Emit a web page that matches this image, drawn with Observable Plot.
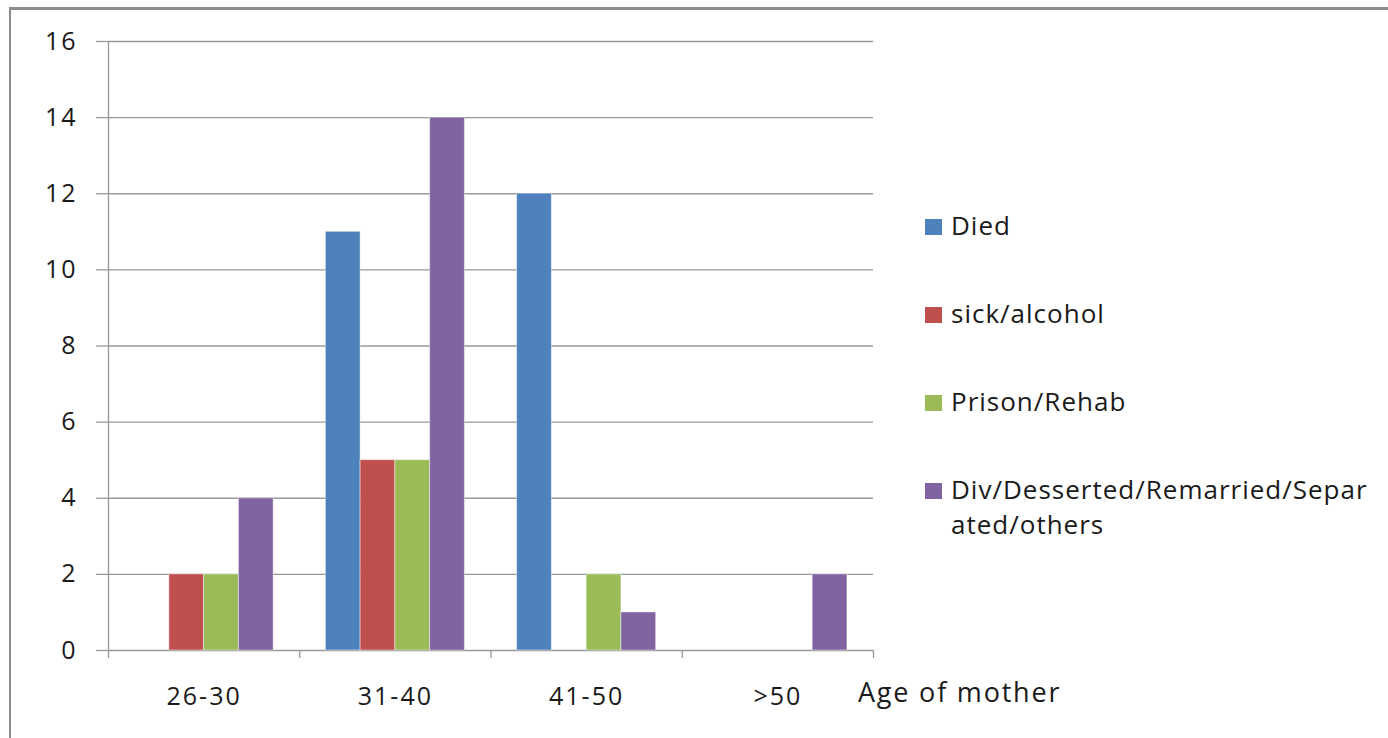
<!DOCTYPE html>
<html>
<head>
<meta charset="utf-8">
<script src="https://cdn.jsdelivr.net/npm/d3@7"></script>
<script src="https://cdn.jsdelivr.net/npm/@observablehq/plot@0.6"></script>
<style>
  html, body { margin: 0; padding: 0; background: #fff; }
  #wrap { position: relative; width: 1388px; height: 738px; overflow: hidden; font-family: "Open Sans", sans-serif; color: #1a1a1a; }
  #chart svg { display: block; }
  .frame-top { position: absolute; left: 9px; top: 7px; width: 1379px; height: 3px; background: #8c8c8c; }
  .frame-left { position: absolute; left: 9px; top: 7px; width: 2px; height: 731px; background: #8c8c8c; }
  #legend { position: absolute; left: 925px; top: 208px; font-size: 26px; letter-spacing: 1px; }
  .item { position: relative; padding-left: 26px; line-height: 35px; margin-bottom: 53px; white-space: nowrap; }
  .sw { position: absolute; left: 0; top: 11px; width: 17px; height: 16px; }
  #xlabel { position: absolute; left: 858px; top: 673px; font-size: 27px; letter-spacing: 1.8px; white-space: nowrap; }
</style>
</head>
<body>
<div id="wrap">
  <div id="chart"></div>
  <div class="frame-top"></div>
  <div class="frame-left"></div>
  <div id="legend"></div>
  <div id="xlabel">Age of mother</div>
</div>
<script>
const groups = ["26-30", "31-40", "41-50", ">50"];
const seriesNames = ["Died", "sick/alcohol", "Prison/Rehab", "Div/Desserted/Remarried/Separated/others"];
const legendLabels = ["Died", "sick/alcohol", "Prison/Rehab", "Div/Desserted/Remarried/Separ<br>ated/others"];
const colors = ["#4F81BD", "#C0504D", "#9BBB59", "#8064A2"];
const died = [0, 11, 12, 0];
const sickAlcohol = [2, 5, 0, 0];
const prisonRehab = [2, 5, 2, 0];
const divOthers = [4, 14, 1, 2];
const yTicks = [0, 2, 4, 6, 8, 10, 12, 14, 16];

const seriesValues = [died, sickAlcohol, prisonRehab, divOthers];
// within each group: outer padding of 0.75 band on each side, 4 bands
const steps = seriesNames.length + 1.5;
const rows = [];
seriesValues.forEach((vals, s) => {
  vals.forEach((v, g) => {
    if (v > 0) rows.push({
      series: seriesNames[s],
      group: groups[g],
      x1: g + (0.75 + s) / steps,
      x2: g + (1.75 + s) / steps,
      value: v
    });
  });
});

const plot = Plot.plot({
  width: 1388,
  height: 738,
  marginLeft: 108,
  marginRight: 515,
  marginTop: 41,
  marginBottom: 88,
  style: { fontFamily: "Open Sans, sans-serif", fontSize: "25px", letterSpacing: "2px", color: "#1a1a1a", background: "transparent" },
  x: { type: "linear", domain: [0, groups.length] },
  y: { domain: [0, 16] },
  color: { domain: seriesNames, range: colors },
  marks: [
    Plot.ruleY(yTicks, { x1: 0, x2: groups.length, stroke: "#999", strokeWidth: 1.3 }),
    Plot.rectY(rows, { x1: "x1", x2: "x2", y: "value", fill: "series", stroke: "#ffffff", strokeOpacity: 0.45, strokeWidth: 1 }),
    Plot.ruleX([0], { y1: 0, y2: 16, stroke: "#999", strokeWidth: 1.3 }),
    Plot.axisY({ ticks: yTicks, tickSize: 12, tickPadding: 19, stroke: "#999", strokeWidth: 1.3, label: null, fontSize: 25 }),
    Plot.axisX({ ticks: d3.range(groups.length + 1), tickSize: 8, tickFormat: () => "", stroke: "#999", strokeWidth: 1.3, label: null }),
    Plot.axisX({ ticks: groups.map((g, i) => i + 0.5), tickSize: 0, tickPadding: 37, tickFormat: (d) => groups[Math.floor(d)], label: null, fontSize: 25 })
  ]
});
document.getElementById("chart").appendChild(plot);

const legend = document.getElementById("legend");
legendLabels.forEach((lab, i) => {
  const item = document.createElement("div");
  item.className = "item";
  item.innerHTML = `<span class="sw" style="background:${colors[i]}"></span>${lab}`;
  legend.appendChild(item);
});
</script>
</body>
</html>
